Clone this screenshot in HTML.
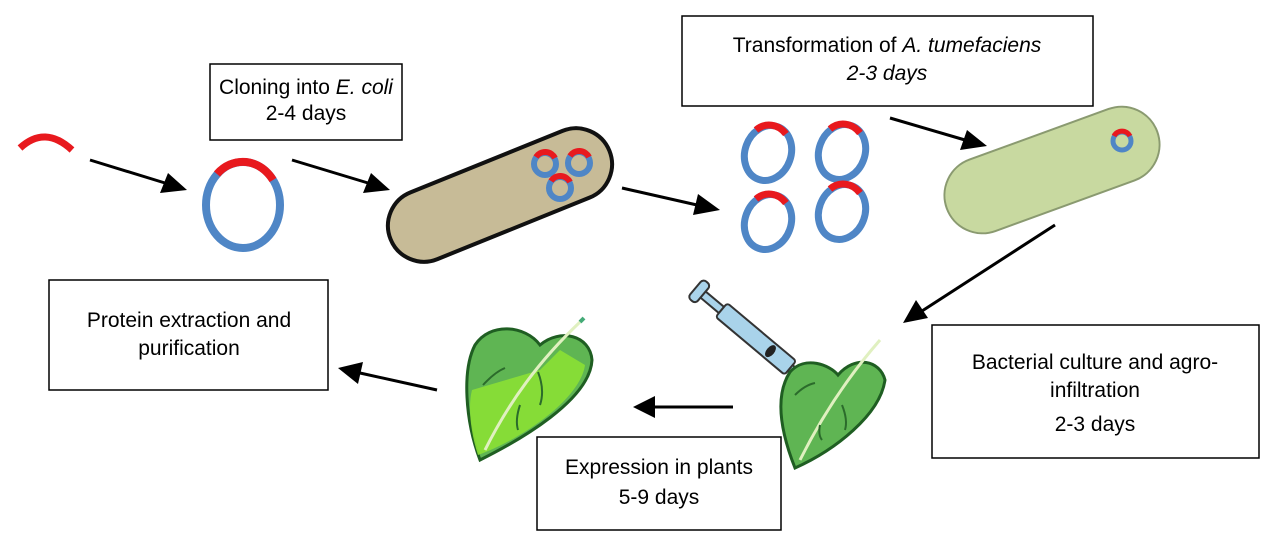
<!DOCTYPE html>
<html><head><meta charset="utf-8"><style>
body{margin:0;background:#fff;}
svg{display:block}
text{font-family:"Liberation Sans",Arial,sans-serif;font-size:21px;fill:#000}
</style></head><body>
<svg width="1271" height="547" viewBox="0 0 1271 547">
<!-- boxes -->
<g fill="#fff" stroke="#000" stroke-width="1.5">
<rect x="210" y="64" width="192" height="76"/>
<rect x="682" y="16" width="411" height="90"/>
<rect x="49" y="280" width="279" height="110"/>
<rect x="932" y="325" width="327" height="133"/>
<rect x="537" y="437" width="244" height="93"/>
</g>
<text x="306" y="94" text-anchor="middle">Cloning into <tspan font-style="italic">E. coli</tspan></text>
<text x="306" y="120" text-anchor="middle">2-4 days</text>
<text x="887" y="52" text-anchor="middle" font-size="22">Transformation of <tspan font-style="italic">A. tumefaciens</tspan></text>
<text x="887" y="80" text-anchor="middle" font-style="italic" font-size="22">2-3 days</text>
<text x="189" y="327" text-anchor="middle">Protein extraction and</text>
<text x="189" y="355" text-anchor="middle">purification</text>
<text x="1095" y="369" text-anchor="middle">Bacterial culture and agro-</text>
<text x="1095" y="397" text-anchor="middle">infiltration</text>
<text x="1095" y="431" text-anchor="middle">2-3 days</text>
<text x="659" y="474" text-anchor="middle">Expression in plants</text>
<text x="659" y="504" text-anchor="middle">5-9 days</text>

<!-- arrows -->
<g stroke="#000" stroke-width="3" fill="#000">
<line x1="90" y1="160" x2="165" y2="183"/><polygon points="187,190 160,193 168,173" stroke="none"/>
<line x1="292" y1="160" x2="368" y2="183"/><polygon points="390,190 363,193 371,173" stroke="none"/>
<line x1="622" y1="188" x2="697" y2="205"/><polygon points="720,210 693,215 698,194" stroke="none"/>
<line x1="890" y1="118" x2="965" y2="140"/><polygon points="987,146 960,150 967,130" stroke="none"/>
<line x1="1055" y1="225" x2="922" y2="311"/><polygon points="903,323 916,300 928,318" stroke="none"/>
<line x1="733" y1="407" x2="655" y2="407"/><polygon points="633,407 655,396 655,418" stroke="none"/>
<line x1="437" y1="390" x2="360" y2="373"/><polygon points="338,368 363,362 358,384" stroke="none"/>
</g>

<!-- red fragment -->
<path d="M20,148 Q45,125 72,150" stroke="#e8191e" stroke-width="7" fill="none"/>
<!-- plasmid -->
<ellipse cx="243" cy="205" rx="37" ry="43" fill="none" stroke="#4f86c6" stroke-width="8"/>
<path d="M217,174 A37,43 0 0 1 273,180" stroke="#e8191e" stroke-width="8" fill="none"/>

<!-- bacterium 1 -->
<g transform="translate(500,195) rotate(-22)">
<rect x="-118" y="-36" width="236" height="72" rx="36" fill="#c7bb97" stroke="#111" stroke-width="4"/>
</g>
<g fill="none" stroke-width="6">
<circle cx="545" cy="164" r="11" stroke="#4f86c6"/><path d="M536,157 A11,11 0 0 1 555,158" stroke="#e8191e"/>
<circle cx="579" cy="163" r="11" stroke="#4f86c6"/><path d="M570,156 A11,11 0 0 1 589,157" stroke="#e8191e"/>
<circle cx="560" cy="188" r="11" stroke="#4f86c6"/><path d="M551,181 A11,11 0 0 1 570,182" stroke="#e8191e"/>
</g>

<!-- four plasmids -->
<g fill="none" stroke-width="7">
<ellipse cx="768" cy="153" rx="23" ry="28" stroke="#4f86c6" transform="rotate(20 768 153)"/>
<path d="M756,130 A23,28 0 0 1 786,134" stroke="#e8191e"/>
<ellipse cx="842" cy="152" rx="23" ry="28" stroke="#4f86c6" transform="rotate(20 842 152)"/>
<path d="M830,129 A23,28 0 0 1 860,133" stroke="#e8191e"/>
<ellipse cx="768" cy="222" rx="23" ry="28" stroke="#4f86c6" transform="rotate(20 768 222)"/>
<path d="M756,199 A23,28 0 0 1 786,203" stroke="#e8191e"/>
<ellipse cx="842" cy="212" rx="23" ry="28" stroke="#4f86c6" transform="rotate(20 842 212)"/>
<path d="M830,189 A23,28 0 0 1 860,193" stroke="#e8191e"/>
</g>

<!-- bacterium 2 -->
<g transform="translate(1052,170) rotate(-20)">
<rect x="-112" y="-38" width="224" height="76" rx="38" fill="#c8d9a0" stroke="#8a9a70" stroke-width="2"/>
</g>
<circle cx="1122" cy="141" r="9" fill="none" stroke="#4f86c6" stroke-width="5"/>
<path d="M1114,136 A9,9 0 0 1 1130,136" stroke="#e8191e" stroke-width="5" fill="none"/>

<!-- left leaf -->
<path d="M480,460 C465,420 462,370 475,345 C490,322 525,325 540,345 C560,328 590,335 592,360 C590,400 520,440 480,460 Z" fill="#5fb553" stroke="#1f5e22" stroke-width="3"/>
<path d="M478,455 C470,430 468,405 472,390 L540,370 L560,350 L585,365 C580,400 520,440 478,455 Z" fill="#8be034" opacity="0.9"/>
<path d="M485,450 C510,400 540,360 580,322" stroke="#e0f0c0" stroke-width="3" fill="none"/>
<path d="M580,322 L584,318" stroke="#4a7" stroke-width="4"/>
<g stroke="#2b6b2b" stroke-width="2" fill="none">
<path d="M483,385 Q495,372 505,368"/><path d="M538,372 Q545,390 540,405"/><path d="M520,405 Q515,420 518,430"/>
</g>

<!-- syringe -->
<g transform="translate(700,292) rotate(40)">
<rect x="0" y="-4" width="28" height="8" fill="#a9d3ea" stroke="#333" stroke-width="2"/>
<rect x="-6" y="-12" width="10" height="24" rx="4" fill="#a9d3ea" stroke="#333" stroke-width="2"/>
<rect x="28" y="-9" width="90" height="18" rx="3" fill="#a9d3ea" stroke="#333" stroke-width="2"/>
<ellipse cx="92" cy="0" rx="4" ry="7" fill="#222"/>
<path d="M118,-4 L130,0 L118,4 Z" fill="#a9d3ea" stroke="#333" stroke-width="2"/>
</g>

<!-- right leaf -->
<path d="M795,468 C780,430 775,395 790,372 C805,355 830,365 838,375 C855,355 880,360 885,380 C880,415 835,450 795,468 Z" fill="#5fb553" stroke="#1f5e22" stroke-width="3"/>
<path d="M800,460 C820,420 845,380 880,340" stroke="#e0f0c0" stroke-width="3" fill="none"/>
<g stroke="#2b6b2b" stroke-width="2" fill="none">
<path d="M795,395 Q805,385 815,383"/><path d="M842,405 Q848,420 845,430"/><path d="M820,425 Q818,435 822,440"/>
</g>
</svg>
</body></html>
